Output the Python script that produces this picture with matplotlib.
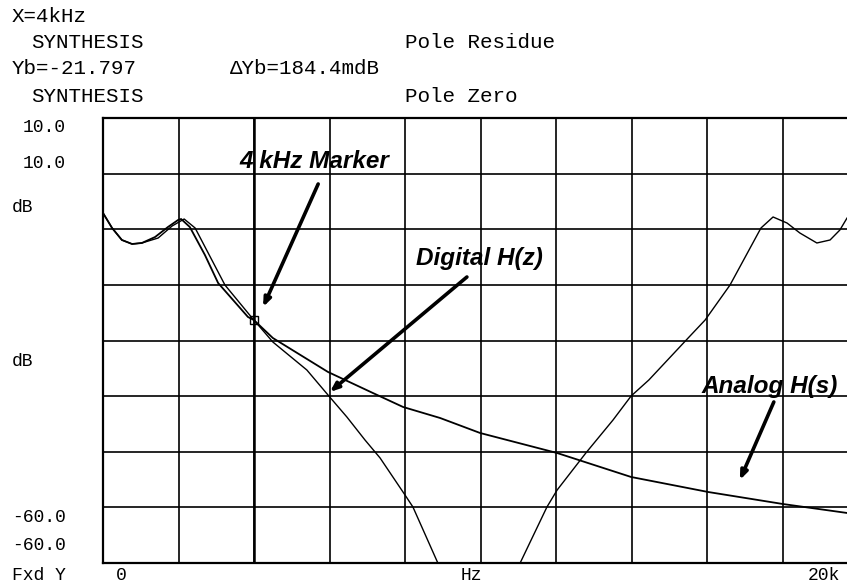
import numpy as np
import matplotlib
matplotlib.use("Agg")
import matplotlib.pyplot as plt

# frequency axis in kHz, magnitude in dB
analog_khz = [0.00, 0.24, 0.50, 0.77, 1.03, 1.38, 1.72, 1.99, 2.07, 2.30, 2.70,
              3.05, 3.84, 4.00, 4.50, 5.96, 7.15, 7.95, 8.93, 9.99, 12.03,
              13.99, 16.03, 18.01, 19.71, 20.00]
analog_db = [-4.94, -7.30, -9.19, -9.82, -9.66, -8.72, -7.15, -6.04, -5.89, -7.15,
             -11.55, -15.96, -21.30, -21.797, -24.61, -29.95, -33.26, -35.46,
             -37.19, -39.55, -42.70, -46.47, -48.83, -50.72, -52.13, -52.50]

digital_khz = [0.00, 0.24, 0.50, 0.77, 1.03, 1.46, 1.83, 2.15, 2.44, 3.23, 3.95,
               4.00, 4.50, 5.40, 5.96, 6.46, 6.94, 7.34, 8.00, 8.21, 8.87, 9.30,
               10.70, 11.05, 11.76, 12.03, 12.79, 13.51, 13.99, 14.46, 15.50,
               15.95, 16.61, 17.43, 17.75, 18.12, 18.46, 18.91, 19.26, 19.52,
               19.71, 20.00]
digital_db = [-4.94, -7.30, -9.19, -9.82, -9.66, -8.88, -6.99, -5.89, -7.30, -16.27,
              -21.46, -21.797, -25.24, -29.64, -33.57, -37.03, -40.65, -43.48,
              -49.30, -51.19, -60.0, -68.0, -68.0, -60.0, -51.19, -48.52, -42.70,
              -37.51, -33.73, -31.21, -24.61, -21.78, -16.27, -7.30, -5.57, -6.52,
              -8.09, -9.66, -9.19, -7.62, -5.73, -4.00]

marker_khz = 4.0
marker_db = -21.797

# (label, text x kHz, baseline dB, arrow tail, arrow head)
callouts = [
    ("4 kHz Marker", 5.59, 2.13, (5.70, -0.38), (4.24, -19.73)),
    ("Digital H(z)", 9.96, -13.12, (9.64, -15.01), (6.01, -33.10)),
    ("Analog H(s)", 17.67, -33.26, (17.77, -34.67), (16.87, -46.94)),
]

MONO = ["Liberation Mono", "DejaVu Sans Mono"]

fig = plt.figure(figsize=(8.47, 5.85), dpi=100)
W, H = 847.0, 585.0


def ftext(x, y, s, ha="left", size=15):
    # place header / scale text in pixel coordinates (origin top-left)
    fig.text(x / W, 1 - y / H, s, ha=ha, va="center",
             family=MONO, size=size, color="black")


ax = fig.add_axes([103 / W, (H - 563) / H, 755 / W, 445 / H])
ax.set_xlim(0, 20)
ax.set_ylim(-60, 10)
ax.set_xticks(np.arange(0, 21, 2))
ax.set_yticks(np.linspace(-60, 10, 9))
ax.tick_params(length=0, labelbottom=False, labelleft=False)
ax.grid(True, color="black", linewidth=1.2)
ax.axvline(marker_khz, color="black", linewidth=1.8)
for sp in ax.spines.values():
    sp.set_linewidth(1.6)

ax.plot(analog_khz, analog_db, color="black", linewidth=1.3)
ax.plot(digital_khz, digital_db, color="black", linewidth=1.0)
ax.plot([marker_khz], [marker_db], marker="s", markersize=5.5,
        markerfacecolor="none", markeredgecolor="black", markeredgewidth=1.0)

for label, tx, ty, tail, head in callouts:
    ax.text(tx, ty, label, ha="center", va="baseline",
            family="Liberation Sans", style="italic", weight="bold", size=17.5)
    ax.annotate("", xy=head, xytext=tail,
                arrowprops=dict(arrowstyle="-|>,head_length=0.5,head_width=0.2",
                                color="black", linewidth=2.6, shrinkA=0, shrinkB=0))

# header block
ftext(12, 16, "X=4kHz")
ftext(31, 42, "SYNTHESIS")
ftext(405, 42, "Pole Residue")
ftext(12, 68, "Yb=-21.797")
ftext(230, 68, "\u0394Yb=184.4mdB")
ftext(31, 97, "SYNTHESIS")
ftext(405, 97, "Pole Zero")

# scale labels for both traces
ftext(66, 127, "10.0", ha="right", size=13)
ftext(66, 163, "10.0", ha="right", size=13)
ftext(12, 207, "dB", size=13)
ftext(12, 362, "dB", size=13)
ftext(66, 518, "-60.0", ha="right", size=13)
ftext(66, 546, "-60.0", ha="right", size=13)

# frequency axis line
ftext(12, 575, "Fxd Y", size=13)
ftext(116, 575, "0", size=13)
ftext(461, 575, "Hz", size=13)
ftext(808, 575, "20k", size=13)

fig.savefig("out.png", dpi=100)
